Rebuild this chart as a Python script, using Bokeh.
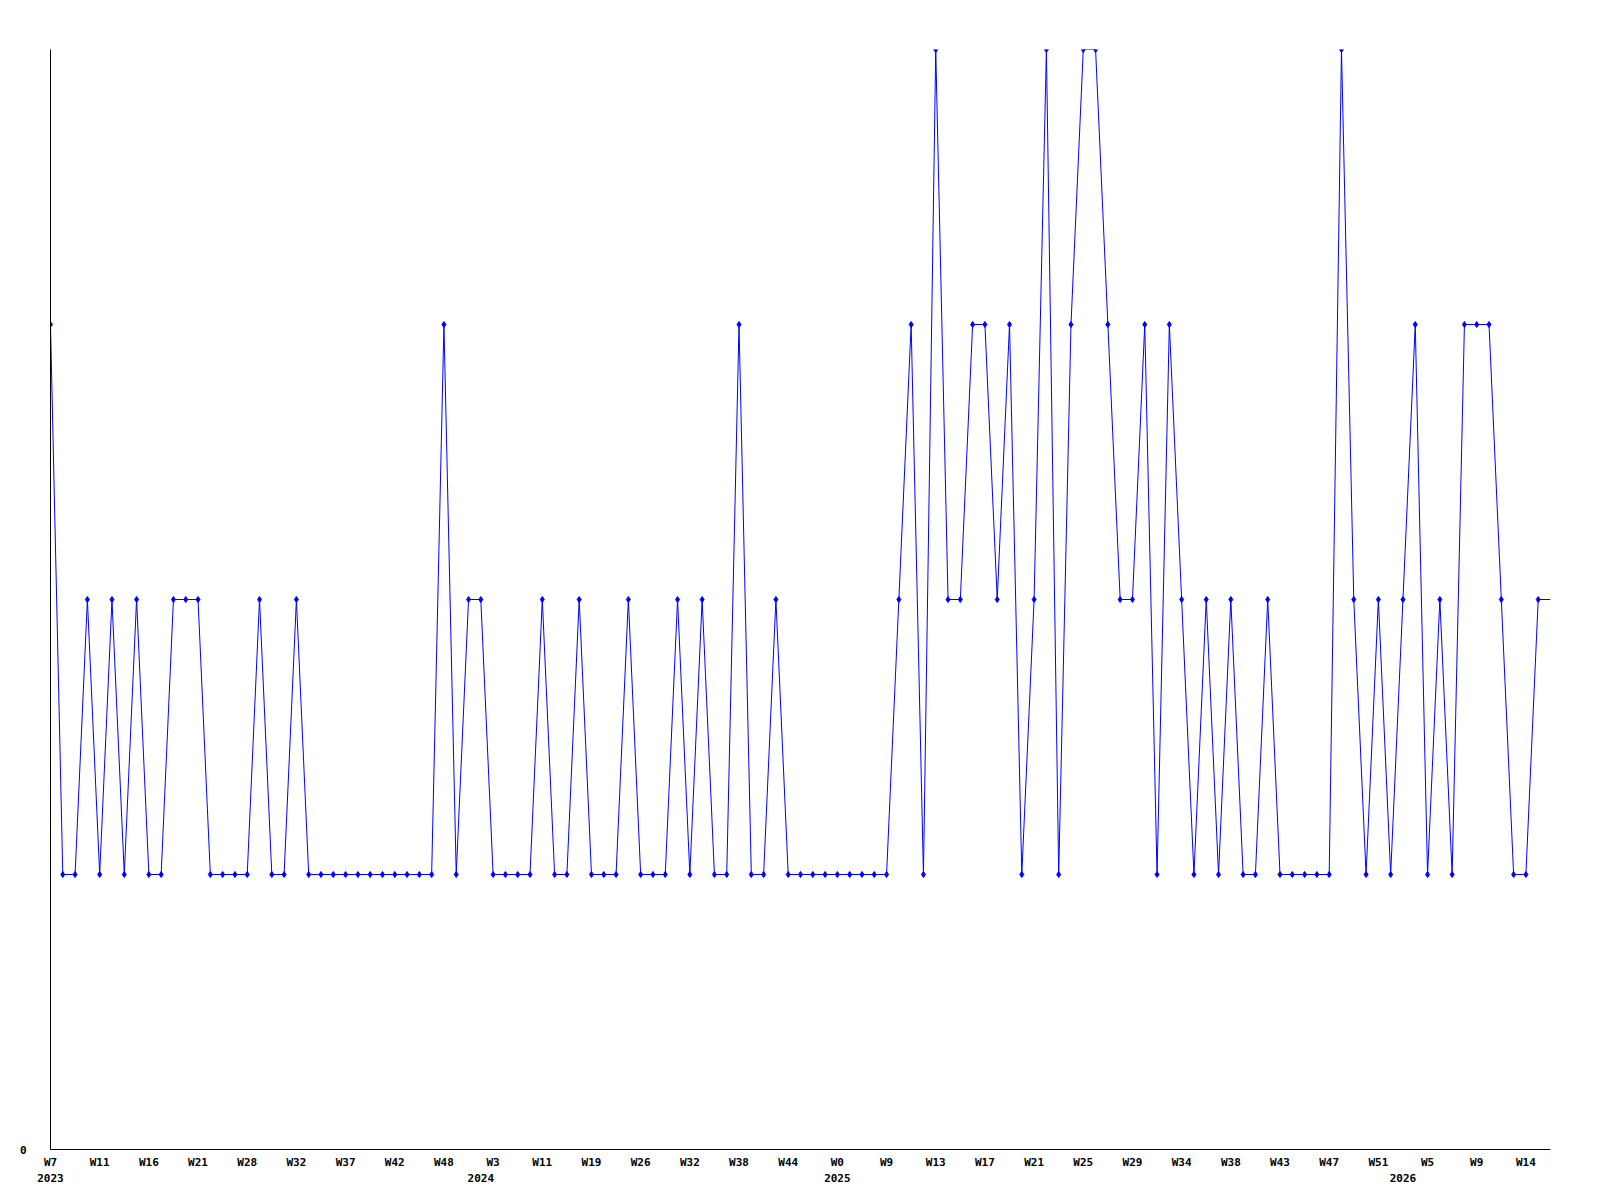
from bokeh.plotting import figure
from bokeh.models import FixedTicker, LinearAxis, Range1d, ColumnDataSource
from bokeh.embed import file_html
from bokeh.resources import INLINE

# ---- data ----
values = [3, 1, 1, 2, 1, 2, 1, 2, 1, 1,
          2, 2, 2, 1, 1, 1, 1, 2, 1, 1,
          2, 1, 1, 1, 1, 1, 1, 1, 1, 1,
          1, 1, 3, 1, 2, 2, 1, 1, 1, 1,
          2, 1, 1, 2, 1, 1, 1, 2, 1, 1,
          1, 2, 1, 2, 1, 1, 3, 1, 1, 2,
          1, 1, 1, 1, 1, 1, 1, 1, 1, 2,
          3, 1, 4, 2, 2, 3, 3, 2, 3, 1,
          2, 4, 1, 3, 4, 4, 3, 2, 2, 3,
          1, 3, 2, 1, 2, 1, 2, 1, 1, 2,
          1, 1, 1, 1, 1, 4, 2, 1, 2, 1,
          2, 3, 1, 2, 1, 3, 3, 3, 2, 1,
          1, 2, 2]
week_labels = ["W7", "W11", "W16", "W21", "W28", "W32", "W37", "W42", "W48",
               "W3", "W11", "W19", "W26", "W32", "W38", "W44",
               "W0", "W9", "W13", "W17", "W21", "W25", "W29", "W34", "W38",
               "W43", "W47", "W51", "W5", "W9", "W14"]
week_label_every = 4
year_labels = ["2023", "2024", "2025", "2026"]
year_positions = [0, 35, 64, 110]
y_ticks = [0]

# ---- build ----
xs = list(range(len(values)))
week_ticks = list(range(0, len(week_labels) * week_label_every, week_label_every))

src_line = ColumnDataSource(dict(x=xs, y=values))
src_pts = ColumnDataSource(dict(x=xs[:-1], y=values[:-1]))

FONT = "DejaVu Sans Mono"

p = figure(width=1584, height=1184,
           x_range=Range1d(0, len(values) - 1), y_range=Range1d(0, 4),
           output_backend="svg", toolbar_location=None,
           min_border_left=50, min_border_right=34,
           min_border_top=49, min_border_bottom=34)
p.outline_line_color = None
p.xgrid.visible = False
p.ygrid.visible = False
p.background_fill_color = "white"
p.border_fill_color = "white"

p.line("x", "y", source=src_line, line_color="#0000ff", line_width=1)
p.scatter("x", "y", source=src_pts, marker="diamond", size=6,
          line_color="#0000ff", fill_color="#0000ff")


def style_axis(ax, standoff):
    ax.major_tick_line_color = None
    ax.minor_tick_line_color = None
    ax.major_tick_out = 0
    ax.major_tick_in = 0
    ax.minor_tick_out = 0
    ax.minor_tick_in = 0
    ax.major_label_standoff = standoff
    ax.major_label_text_font = FONT
    ax.major_label_text_font_style = "bold"
    ax.major_label_text_font_size = "11px"
    ax.major_label_text_color = "black"


xa = p.xaxis[0]
xa.ticker = FixedTicker(ticks=week_ticks)
xa.major_label_overrides = {t: lab for t, lab in zip(week_ticks, week_labels)}
xa.axis_line_color = "black"
xa.axis_line_width = 1
style_axis(xa, 6)

ya = p.yaxis[0]
ya.ticker = FixedTicker(ticks=y_ticks)
ya.major_label_overrides = {0: "0"}
ya.axis_line_color = "black"
style_axis(ya, 24)

ax2 = LinearAxis(ticker=FixedTicker(ticks=year_positions),
                 major_label_overrides={pos: lab for pos, lab in zip(year_positions, year_labels)})
ax2.axis_line_color = None
style_axis(ax2, 2)
p.add_layout(ax2, "below")

open("out.html", "w").write(file_html(p, INLINE))
